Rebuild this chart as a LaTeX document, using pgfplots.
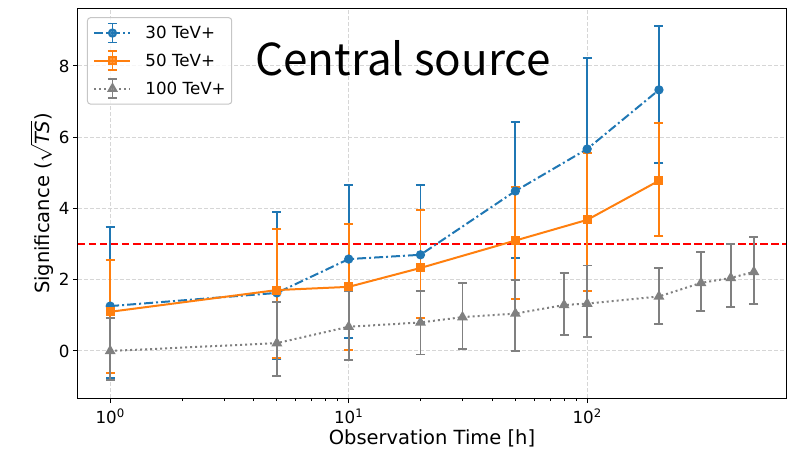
\documentclass[border=0pt]{standalone}
\usepackage{pgfplots}
\usepackage{pgfplotstable}
\pgfplotsset{compat=1.18}
\usepackage{fontspec}
\setmainfont{DejaVu Sans}
\newfontfamily\titlefont{Noto Sans CJK SC}

\definecolor{tabblue}{HTML}{1F77B4}
\definecolor{taborange}{HTML}{FF7F0E}
\definecolor{tabgray}{HTML}{808080}
\definecolor{gridgray}{HTML}{D6D6D6}

% x = observation time [h], y = significance, ep/em = upper/lower error
\pgfplotstableread{
x   y     ep    em
1   1.26  2.23  2.02
5   1.63  2.27  1.85
10  2.58  2.08  2.21
20  2.70  1.96  1.95
50  4.49  1.94  1.89
100 5.67  2.56  2.07
200 7.33  1.80  2.05
}\thirtytev
\pgfplotstableread{
x   y     ep    em
1   1.10  1.46  1.72
5   1.71  1.72  1.91
10  1.80  1.77  1.77
20  2.33  1.63  1.40
50  3.10  1.50  1.64
100 3.68  1.88  1.99
200 4.78  1.62  1.55
}\fiftytev
\pgfplotstableread{
x   y     ep    em
1   0.00  0.93  0.81
5   0.22  1.16  0.92
10  0.68  1.01  0.93
20  0.80  0.89  0.90
30  0.95  0.95  0.90
50  1.05  0.95  1.05
80  1.29  0.89  0.84
100 1.33  1.07  0.93
200 1.53  0.79  0.78
300 1.91  0.87  0.79
400 2.05  0.95  0.81
500 2.22  0.98  0.90
}\hundredtev

\pgfplotsset{
  errstyle/.style={
    error bars/.cd, y dir=both, y explicit,
    error bar style={solid, line width=1.8pt},
    error mark=|,
    error mark options={solid, line width=1.8pt, mark size=4.5pt},
  },
}

\begin{document}
\begin{tikzpicture}
\begin{axis}[
  at={(0pt,0pt)}, anchor=south west,
  scale only axis, width=708pt, height=389pt,
  xmode=log, xmin=0.733, xmax=682,
  ymin=-1.32, ymax=9.6,
  xtick={1,10,100},
  xticklabels={10\textsuperscript{0},10\textsuperscript{1},10\textsuperscript{2}},
  ytick={0,2,4,6,8},
  /pgf/number format/assume math mode=true,
  tick label style={font=\fontsize{16.7}{20}\selectfont},
  xticklabel style={yshift=-2pt},
  xtick pos=bottom, ytick pos=left,
  tick align=outside,
  major tick length=5pt, minor tick length=3pt,
  tick style={black, line width=1pt},
  minor tick style={black, line width=0.8pt},
  axis line style={black, line width=1pt},
  xmajorgrids=true, ymajorgrids=true,
  major grid style={gridgray, dash pattern=on 4pt off 2pt, line width=1pt},
  xlabel={Observation Time [h]},
  ylabel={Significance (\(\sqrt{\textit{TS}}\))},
  every axis x label/.style={at={(axis description cs:0.5,0)}, anchor=base,
    yshift=-46pt, font=\fontsize{19.5}{23}\selectfont},
  every axis y label/.style={at={(axis description cs:-0.0508,0.5)}, rotate=90,
    anchor=center, font=\fontsize{19.5}{23}\selectfont},
  legend style={
    at={(rel axis cs:0.0127,0.979)}, anchor=north west,
    font=\fontsize{16.7}{20}\selectfont,
    draw=gray!45, line width=1pt, rounded corners=3pt,
    fill=white, fill opacity=0.8, text opacity=1,
    inner xsep=6pt, inner ysep=5pt,
    nodes={inner sep=0pt},
    row sep=7pt, column sep=14pt,
  },
  legend cell align=left,
  legend image code/.code={
    \draw[#1, mark=none] (0pt,0pt) -- (36pt,0pt);
    \draw[#1, solid, mark=none, line width=1.8pt] (18pt,-9.5pt) -- (18pt,9.5pt)
      (13.5pt,-9.5pt) -- (22.5pt,-9.5pt) (13.5pt,9.5pt) -- (22.5pt,9.5pt);
    \draw[#1] plot coordinates {(18pt,0pt)};
  },
]

% detection threshold
\addplot[red, line width=2pt, dash pattern=on 7.5pt off 3.5pt, forget plot]
  coordinates {(0.733,3) (682,3)};

\addplot[tabblue, line width=2pt, dash pattern=on 9pt off 3pt on 2pt off 3pt,
  mark=*, mark size=3.6pt, mark options={solid, fill=tabblue}, errstyle]
  table[x=x, y=y, y error plus=ep, y error minus=em] {\thirtytev};
\addlegendentry{30 TeV+}

\addplot[taborange, line width=2pt, solid,
  mark=square*, mark size=3.5pt, mark options={solid, fill=taborange}, errstyle]
  table[x=x, y=y, y error plus=ep, y error minus=em] {\fiftytev};
\addlegendentry{50 TeV+}

\addplot[tabgray, line width=2pt, dash pattern=on 2pt off 3pt,
  mark=triangle*, mark size=4.3pt, mark options={solid, fill=tabgray}, errstyle]
  table[x=x, y=y, y error plus=ep, y error minus=em] {\hundredtev};
\addlegendentry{100 TeV+}

\node[font=\titlefont\fontsize{44}{44}\selectfont, anchor=base]
  at (rel axis cs:0.459,0.828) {Central source};
\end{axis}
\pgfresetboundingbox
\path[use as bounding box] (-78pt,-50pt) rectangle (720pt,398pt);
\end{tikzpicture}
\end{document}
